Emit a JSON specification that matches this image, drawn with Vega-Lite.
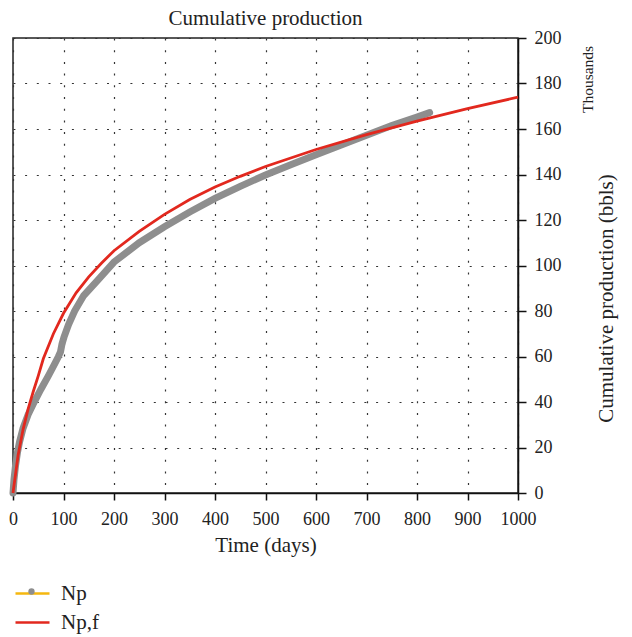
{
  "$schema": "https://vega.github.io/schema/vega-lite/v6.json",
  "width": 505,
  "height": 455,
  "autosize": {"type": "none"},
  "padding": {"left": 13, "top": 38, "right": 114, "bottom": 144},
  "background": "white",
  "title": {"text": "Cumulative production", "fontSize": 21, "fontWeight": "normal", "font": "Liberation Serif", "anchor": "middle", "frame": "group", "offset": 0, "color": "#222"},
  "datasets": {
    "np": [
      {"t": 0, "v": 0, "series": "Np"},
      {"t": 2, "v": 6, "series": "Np"},
      {"t": 5, "v": 12, "series": "Np"},
      {"t": 9, "v": 18, "series": "Np"},
      {"t": 13, "v": 22.5, "series": "Np"},
      {"t": 20, "v": 28.5, "series": "Np"},
      {"t": 30, "v": 34.5, "series": "Np"},
      {"t": 42, "v": 40, "series": "Np"},
      {"t": 55, "v": 45.5, "series": "Np"},
      {"t": 70, "v": 51.5, "series": "Np"},
      {"t": 82, "v": 56.5, "series": "Np"},
      {"t": 90, "v": 60, "series": "Np"},
      {"t": 94, "v": 62, "series": "Np"},
      {"t": 97, "v": 65.5, "series": "Np"},
      {"t": 101, "v": 68.5, "series": "Np"},
      {"t": 110, "v": 74, "series": "Np"},
      {"t": 122, "v": 80, "series": "Np"},
      {"t": 140, "v": 86.8, "series": "Np"},
      {"t": 168, "v": 93.6, "series": "Np"},
      {"t": 200, "v": 101.5, "series": "Np"},
      {"t": 250, "v": 110, "series": "Np"},
      {"t": 300, "v": 117, "series": "Np"},
      {"t": 350, "v": 123.5, "series": "Np"},
      {"t": 400, "v": 129.5, "series": "Np"},
      {"t": 450, "v": 134.8, "series": "Np"},
      {"t": 500, "v": 139.8, "series": "Np"},
      {"t": 550, "v": 144.3, "series": "Np"},
      {"t": 600, "v": 148.7, "series": "Np"},
      {"t": 650, "v": 153, "series": "Np"},
      {"t": 700, "v": 157.3, "series": "Np"},
      {"t": 750, "v": 161.5, "series": "Np"},
      {"t": 800, "v": 165.3, "series": "Np"},
      {"t": 825, "v": 167.2, "series": "Np"}
    ],
    "npf": [
      {"t": 0, "v": 0, "series": "Np,f"},
      {"t": 10, "v": 16.5, "series": "Np,f"},
      {"t": 20, "v": 28, "series": "Np,f"},
      {"t": 30, "v": 37, "series": "Np,f"},
      {"t": 40, "v": 44.5, "series": "Np,f"},
      {"t": 50, "v": 51.5, "series": "Np,f"},
      {"t": 60, "v": 59, "series": "Np,f"},
      {"t": 80, "v": 70, "series": "Np,f"},
      {"t": 100, "v": 79, "series": "Np,f"},
      {"t": 125, "v": 88, "series": "Np,f"},
      {"t": 150, "v": 95, "series": "Np,f"},
      {"t": 175, "v": 101, "series": "Np,f"},
      {"t": 200, "v": 106.5, "series": "Np,f"},
      {"t": 250, "v": 115, "series": "Np,f"},
      {"t": 300, "v": 122.5, "series": "Np,f"},
      {"t": 350, "v": 129, "series": "Np,f"},
      {"t": 400, "v": 134.5, "series": "Np,f"},
      {"t": 450, "v": 139.2, "series": "Np,f"},
      {"t": 500, "v": 143.5, "series": "Np,f"},
      {"t": 600, "v": 151, "series": "Np,f"},
      {"t": 700, "v": 157.5, "series": "Np,f"},
      {"t": 800, "v": 163.5, "series": "Np,f"},
      {"t": 900, "v": 169, "series": "Np,f"},
      {"t": 1000, "v": 174, "series": "Np,f"}
    ]
  },
  "encoding": {
    "x": {
      "field": "t", "type": "quantitative",
      "scale": {"domain": [0, 1000], "nice": false, "zero": false},
      "axis": {
        "values": [0, 100, 200, 300, 400, 500, 600, 700, 800, 900, 1000],
        "format": "d",
        "title": "Time (days)",
        "labelFontSize": 18, "labelColor": "#222", "labelPadding": 10, "labelFlush": false,
        "tickSize": 7, "tickColor": "#111", "tickWidth": 1.5,
        "domainColor": "#111", "domainWidth": 1.5,
        "titleFontSize": 21, "titleFontWeight": "normal", "titleColor": "#222", "titlePadding": 6,
        "grid": true, "gridColor": "#333", "gridDash": [2, 9.7], "gridWidth": 1.2
      }
    }
  },
  "resolve": {"scale": {"y": "independent"}},
  "layer": [
    {
      "data": {"name": "np"},
      "mark": {"type": "line", "strokeWidth": 1.5},
      "encoding": {
        "y": {"field": "v", "type": "quantitative", "scale": {"domain": [0, 200], "nice": false}, "axis": null},
        "stroke": {
          "field": "series", "type": "nominal",
          "scale": {"domain": ["Np", "Np,f"], "range": ["#f5b70f", "#e2281e"]},
          "legend": {
            "orient": "none", "legendX": 1, "legendY": 537, "title": null, "padding": 0,
            "symbolType": "stroke", "symbolSize": 1156, "symbolStrokeWidth": 2.7,
            "labelFontSize": 21, "labelColor": "#222", "labelOffset": 10, "rowPadding": -4, "zindex": 1
          }
        }
      }
    },
    {
      "data": {"name": "np"},
      "mark": {"type": "line", "strokeWidth": 7, "color": "#8e8e8e", "strokeCap": "round"},
      "encoding": {
        "y": {
          "field": "v", "type": "quantitative", "scale": {"domain": [0, 200], "nice": false},
          "axis": {
            "orient": "left", "title": "Thousands", "labels": false, "ticks": false, "domain": false, "grid": false,
            "titleAngle": -90, "titleX": 574, "titleY": 41, "titleAlign": "center", "titleBaseline": "middle",
            "titleFontSize": 15.5, "titleFontWeight": "normal", "titleColor": "#222"
          }
        }
      }
    },
    {
      "data": {"name": "np"},
      "mark": {"type": "point", "filled": true, "size": 30, "color": "#8e8e8e", "opacity": 1},
      "encoding": {
        "y": {"field": "v", "type": "quantitative", "scale": {"domain": [0, 200], "nice": false}, "axis": null},
        "shape": {
          "datum": "Np",
          "scale": {"domain": ["Np"], "range": ["circle"]},
          "legend": {
            "orient": "none", "legendX": 15, "legendY": 550, "title": null, "padding": 0,
            "symbolSize": 40, "symbolFillColor": "#9a9a9a", "symbolStrokeColor": "#9a9a9a", "symbolStrokeWidth": 0,
            "labelExpr": "''", "labelFontSize": 1, "zindex": 2
          }
        }
      }
    },
    {
      "data": {"name": "npf"},
      "mark": {"type": "line", "strokeWidth": 2.8},
      "encoding": {
        "y": {
          "field": "v", "type": "quantitative", "scale": {"domain": [0, 200], "nice": false},
          "axis": {
            "orient": "right", "values": [0, 20, 40, 60, 80, 100, 120, 140, 160, 180, 200],
            "title": "Cumulative production (bbls)",
            "labelFontSize": 18, "labelColor": "#222", "labelPadding": 8,
            "tickSize": 8, "tickColor": "#111", "tickWidth": 1.5,
            "domainColor": "#111", "domainWidth": 1.5,
            "titleFontSize": 21, "titleFontWeight": "normal", "titleColor": "#222",
            "titleAngle": -90, "titleX": 88, "titleY": 260, "titleAlign": "center", "titleBaseline": "middle",
            "grid": true, "gridColor": "#333", "gridDash": [2, 9.7], "gridWidth": 1.2
          }
        },
        "stroke": {"field": "series", "type": "nominal"}
      }
    }
  ],
  "config": {
    "font": "Liberation Serif",
    "view": {"stroke": "#222", "strokeWidth": 1.5}
  }
}
